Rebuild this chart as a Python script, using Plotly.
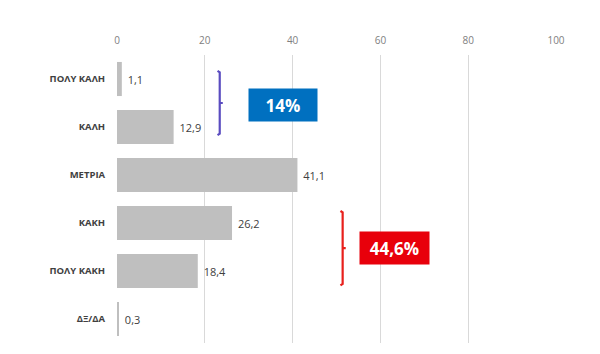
import plotly.graph_objects as go

categories = ["ΠΟΛΥ ΚΑΛΗ", "ΚΑΛΗ", "ΜΕΤΡΙΑ", "ΚΑΚΗ", "ΠΟΛΥ ΚΑΚΗ", "ΔΞ/ΔΑ"]
values = [1.1, 12.9, 41.1, 26.2, 18.4, 0.3]
tick_vals = [0, 20, 40, 60, 80, 100]

group_good = ["14%"]
group_bad = ["44,6%"]

fig = go.Figure()
fig.add_trace(go.Bar(
    y=categories, x=values, orientation="h",
    marker=dict(color="#BFBFBF", line=dict(width=0)),
    text=["\u00a0" + f"{v:.1f}".replace(".", ",") for v in values],
    textposition="outside", cliponaxis=False,
    textfont=dict(family="Open Sans", size=11, color="#404040"),
))

# brackets (paths in data coords on categorical axis indices)
def bracket(x, y0, y1, color):
    ym = (y0 + y1) / 2
    hook = 0.5
    tick = 0.7
    path = (f"M {x-hook},{y0} L {x},{y0+0.03} L {x},{y1-0.03} L {x-hook},{y1} "
            f"M {x},{ym} L {x+tick},{ym}")
    fig.add_shape(type="path", path=path, xref="x", yref="y",
                  line=dict(color=color, width=2.2))

bracket(23.4, -0.17, 1.17, "#5A4CC0")
bracket(51.4, 2.75, 4.30, "#E8201C")

fig.add_annotation(x=37.7, y=0.54, xref="x", yref="y", text="<b>" + group_good[0] + "</b>",
                   showarrow=False, bgcolor="#0070C0", width=66, height=30, borderpad=1,
                   font=dict(family="Open Sans", size=17, color="white"))
fig.add_annotation(x=63.1, y=3.52, xref="x", yref="y", text="<b>" + group_bad[0] + "</b>",
                   showarrow=False, bgcolor="#E8000B", width=67, height=30, borderpad=1,
                   font=dict(family="Open Sans", size=17, color="white"))

fig.update_layout(
    width=600, height=354,
    margin=dict(l=117, r=44, t=55, b=11),
    plot_bgcolor="white", paper_bgcolor="white",
    showlegend=False, bargap=0.29,
    xaxis=dict(range=[0, 100], side="top", tickvals=tick_vals,
               showgrid=True, gridcolor="#D9D9D9", gridwidth=1,
               zeroline=False, showline=False, ticks="outside", ticklen=6, tickcolor="white",
               tickfont=dict(family="Open Sans", size=10, color="#808080")),
    yaxis=dict(type="category", categoryorder="array", categoryarray=categories,
               range=[5.5, -0.5], showgrid=False, zeroline=False, showline=False,
               ticks="outside", ticklen=9, tickcolor="white",
               tickfont=dict(family="Open Sans", size=9.5, color="#404040", weight="bold")),
)

fig.write_html("out.html")
